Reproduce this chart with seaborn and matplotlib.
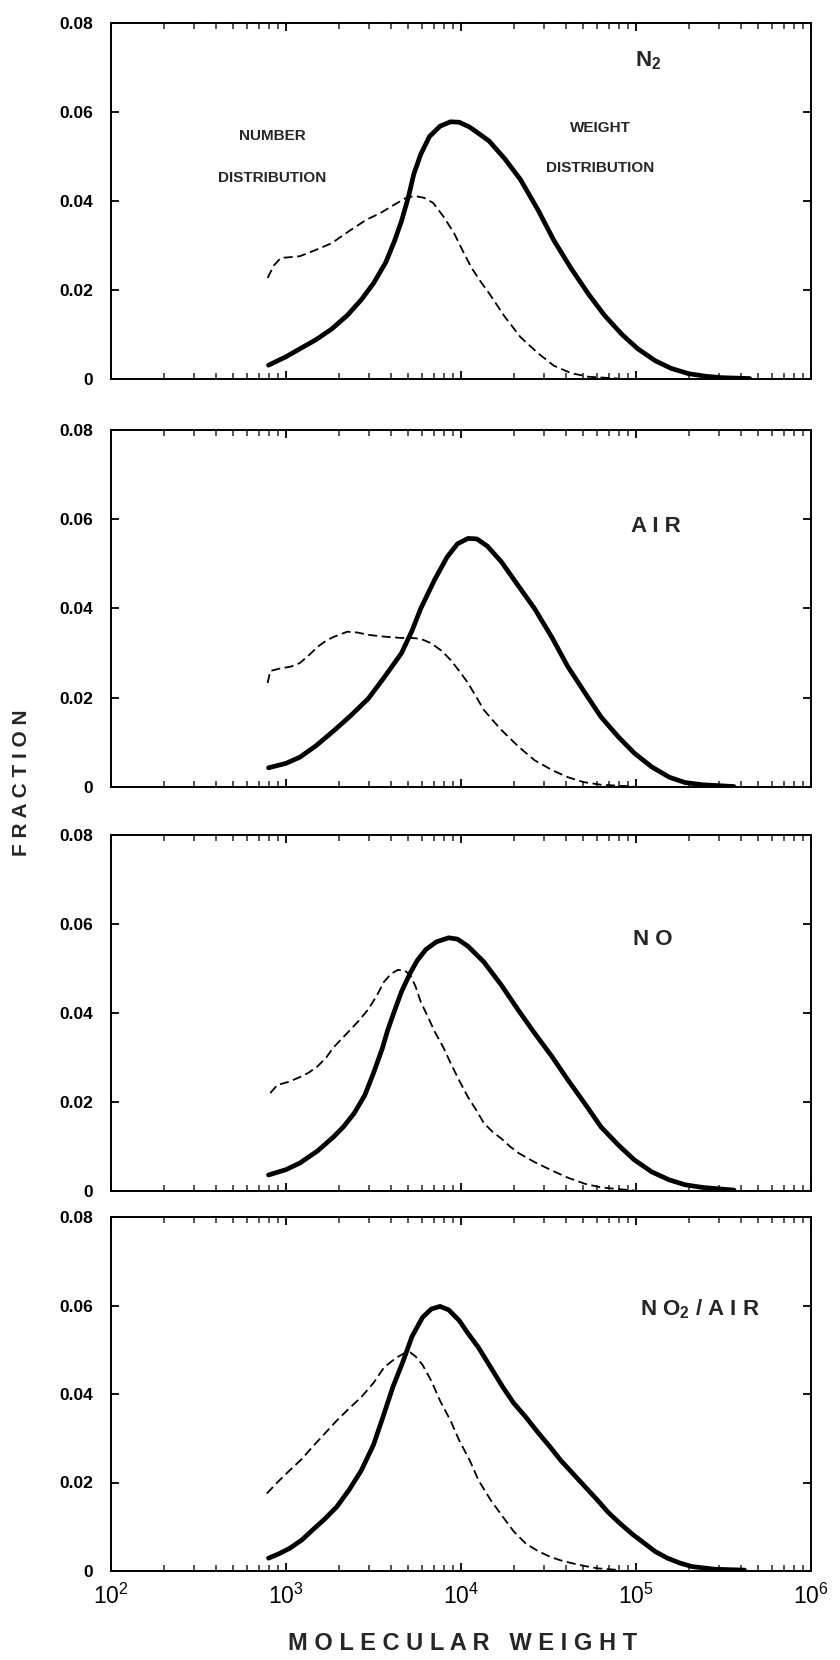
import numpy as np
import pandas as pd
import matplotlib
matplotlib.use("Agg")
import matplotlib.pyplot as plt
import seaborn as sns
from matplotlib.ticker import LogLocator, FixedLocator, FixedFormatter, NullFormatter

# ---------------- data (log10 molecular weight, fraction) ----------------
n2_weight_logm = [2.90, 3.00, 3.08, 3.17, 3.26, 3.35, 3.43, 3.50, 3.57, 3.62, 3.66, 3.70, 3.73, 3.77, 3.82, 3.88, 3.94, 3.99, 4.05, 4.10, 4.16, 4.25, 4.34, 4.44, 4.53, 4.63, 4.73, 4.82, 4.92, 5.01, 5.11, 5.20, 5.30, 5.40, 5.49, 5.65]
n2_weight_frac = [0.0031, 0.0050, 0.0068, 0.0088, 0.0112, 0.0143, 0.0178, 0.0215, 0.0262, 0.0310, 0.0355, 0.0410, 0.0460, 0.0505, 0.0545, 0.0568, 0.0578, 0.0577, 0.0566, 0.0552, 0.0535, 0.0495, 0.0448, 0.0380, 0.0312, 0.0248, 0.0190, 0.0143, 0.0100, 0.0068, 0.0041, 0.0024, 0.0012, 0.0006, 0.0003, 0.0001]
n2_number_logm = [2.895, 2.93, 2.97, 3.03, 3.08, 3.17, 3.26, 3.37, 3.46, 3.54, 3.62, 3.69, 3.74, 3.79, 3.84, 3.90, 3.96, 4.01, 4.06, 4.11, 4.16, 4.25, 4.34, 4.44, 4.53, 4.63, 4.73, 4.90]
n2_number_frac = [0.0227, 0.0255, 0.0272, 0.0274, 0.0276, 0.0290, 0.0305, 0.0335, 0.0358, 0.0373, 0.0392, 0.0408, 0.0411, 0.0407, 0.0396, 0.0365, 0.0328, 0.0288, 0.0250, 0.0220, 0.0193, 0.0140, 0.0094, 0.0058, 0.0030, 0.0013, 0.0005, 0.0001]

air_weight_logm = [2.90, 3.00, 3.08, 3.17, 3.27, 3.37, 3.47, 3.56, 3.66, 3.72, 3.77, 3.85, 3.92, 3.98, 4.04, 4.09, 4.15, 4.23, 4.32, 4.42, 4.52, 4.61, 4.71, 4.80, 4.90, 4.99, 5.09, 5.19, 5.28, 5.38, 5.56]
air_weight_frac = [0.0043, 0.0053, 0.0067, 0.0092, 0.0125, 0.0160, 0.0198, 0.0245, 0.0300, 0.0350, 0.0400, 0.0465, 0.0515, 0.0545, 0.0557, 0.0556, 0.0540, 0.0505, 0.0455, 0.0400, 0.0335, 0.0270, 0.0210, 0.0157, 0.0112, 0.0076, 0.0045, 0.0022, 0.0010, 0.0005, 0.0001]
air_number_logm = [2.895, 2.91, 2.96, 3.03, 3.08, 3.13, 3.18, 3.23, 3.27, 3.35, 3.41, 3.47, 3.56, 3.66, 3.72, 3.77, 3.83, 3.89, 3.94, 3.99, 4.04, 4.09, 4.13, 4.18, 4.23, 4.33, 4.42, 4.52, 4.61, 4.70, 4.80, 4.99]
air_number_frac = [0.0233, 0.0260, 0.0265, 0.0270, 0.0278, 0.0295, 0.0314, 0.0328, 0.0336, 0.0348, 0.0346, 0.0341, 0.0337, 0.0334, 0.0334, 0.0332, 0.0322, 0.0305, 0.0285, 0.0260, 0.0233, 0.0200, 0.0173, 0.0150, 0.0128, 0.0090, 0.0060, 0.0038, 0.0022, 0.0011, 0.0005, 0.0001]

no_weight_logm = [2.90, 3.00, 3.08, 3.18, 3.27, 3.33, 3.39, 3.45, 3.50, 3.55, 3.58, 3.62, 3.66, 3.71, 3.75, 3.80, 3.86, 3.93, 3.98, 4.04, 4.13, 4.23, 4.33, 4.42, 4.52, 4.61, 4.71, 4.80, 4.90, 4.99, 5.09, 5.19, 5.28, 5.38, 5.56]
no_weight_frac = [0.0036, 0.0048, 0.0063, 0.0090, 0.0121, 0.0145, 0.0175, 0.0215, 0.0265, 0.0320, 0.0360, 0.0405, 0.0448, 0.0490, 0.0518, 0.0543, 0.0560, 0.0569, 0.0566, 0.0550, 0.0515, 0.0463, 0.0405, 0.0355, 0.0302, 0.0250, 0.0195, 0.0144, 0.0103, 0.0070, 0.0043, 0.0025, 0.0014, 0.0008, 0.0002]
no_number_logm = [2.91, 2.95, 3.02, 3.08, 3.13, 3.18, 3.23, 3.27, 3.35, 3.41, 3.47, 3.52, 3.56, 3.60, 3.64, 3.68, 3.71, 3.74, 3.77, 3.81, 3.85, 3.90, 3.94, 3.99, 4.04, 4.09, 4.13, 4.18, 4.23, 4.28, 4.33, 4.42, 4.52, 4.61, 4.71, 4.80, 4.99]
no_number_frac = [0.0220, 0.0238, 0.0246, 0.0256, 0.0266, 0.0280, 0.0300, 0.0322, 0.0355, 0.0380, 0.0408, 0.0440, 0.0470, 0.0488, 0.0497, 0.0495, 0.0485, 0.0460, 0.0425, 0.0392, 0.0358, 0.0322, 0.0288, 0.0248, 0.0211, 0.0180, 0.0153, 0.0133, 0.0118, 0.0100, 0.0085, 0.0065, 0.0046, 0.0030, 0.0016, 0.0008, 0.0001]

no2_weight_logm = [2.90, 2.96, 3.02, 3.09, 3.15, 3.22, 3.29, 3.36, 3.43, 3.50, 3.56, 3.61, 3.67, 3.72, 3.78, 3.83, 3.88, 3.93, 3.99, 4.04, 4.10, 4.17, 4.24, 4.30, 4.37, 4.44, 4.51, 4.57, 4.64, 4.71, 4.78, 4.84, 4.91, 4.98, 5.05, 5.11, 5.18, 5.25, 5.32, 5.45, 5.62]
no2_weight_frac = [0.0029, 0.0039, 0.0051, 0.0070, 0.0092, 0.0117, 0.0145, 0.0183, 0.0227, 0.0285, 0.0355, 0.0415, 0.0475, 0.0530, 0.0573, 0.0592, 0.0598, 0.0590, 0.0566, 0.0537, 0.0505, 0.0460, 0.0415, 0.0380, 0.0348, 0.0313, 0.0280, 0.0250, 0.0220, 0.0190, 0.0160, 0.0133, 0.0107, 0.0083, 0.0062, 0.0044, 0.0029, 0.0018, 0.0010, 0.0004, 0.0002]
no2_number_logm = [2.89, 2.95, 3.02, 3.09, 3.15, 3.22, 3.29, 3.36, 3.43, 3.50, 3.56, 3.63, 3.68, 3.71, 3.74, 3.78, 3.83, 3.88, 3.94, 3.99, 4.05, 4.10, 4.17, 4.24, 4.30, 4.37, 4.44, 4.51, 4.57, 4.64, 4.71, 4.78, 4.91]
no2_number_frac = [0.0175, 0.0200, 0.0227, 0.0253, 0.0280, 0.0310, 0.0340, 0.0367, 0.0393, 0.0425, 0.0460, 0.0482, 0.0493, 0.0494, 0.0485, 0.0466, 0.0430, 0.0385, 0.0340, 0.0295, 0.0250, 0.0205, 0.0160, 0.0122, 0.0090, 0.0062, 0.0045, 0.0032, 0.0024, 0.0017, 0.0011, 0.0006, 0.0002]

panel_labels = ["N$_\\mathbf{2}$", "A I R", "N O", "N O$_\\mathbf{2}$ / A I R"]
y_ticks = [0, 0.02, 0.04, 0.06, 0.08]
y_tick_labels = ["0", "0.02", "0.04", "0.06", "0.08"]
x_ticks = [1e2, 1e3, 1e4, 1e5, 1e6]
x_tick_labels = ["$10^2$", "$10^3$", "$10^4$", "$10^5$", "$10^6$"]

panels = [
    (n2_weight_logm, n2_weight_frac, n2_number_logm, n2_number_frac),
    (air_weight_logm, air_weight_frac, air_number_logm, air_number_frac),
    (no_weight_logm, no_weight_frac, no_number_logm, no_number_frac),
    (no2_weight_logm, no2_weight_frac, no2_number_logm, no2_number_frac),
]

# ---------------- style ----------------
sns.set_style("ticks")
plt.rcParams["font.family"] = ["Liberation Sans", "DejaVu Sans"]
plt.rcParams["mathtext.fontset"] = "custom"
plt.rcParams["mathtext.rm"] = "Liberation Sans"
plt.rcParams["mathtext.bf"] = "Liberation Sans:bold"
plt.rcParams["mathtext.default"] = "regular"

W, H = 840, 1660
fig = plt.figure(figsize=(W / 100, H / 100), dpi=100)
fig.patch.set_facecolor("white")

left_px, right_px = 111, 811
panel_px = [(23, 379), (430, 787), (835, 1191), (1217, 1571)]

def fx(px):
    return px / W

def fy(py):
    return 1 - py / H

axes = []
for i, ((top, bot), (wl, wf, nl, nf)) in enumerate(zip(panel_px, panels)):
    ax = fig.add_axes([fx(left_px), fy(bot), fx(right_px - left_px), (bot - top) / H])
    axes.append(ax)
    dfw = pd.DataFrame({"mw": 10 ** np.array(wl), "frac": wf})
    dfn = pd.DataFrame({"mw": 10 ** np.array(nl), "frac": nf})
    sns.lineplot(data=dfw, x="mw", y="frac", ax=ax, color="black", linewidth=3.4,
                 estimator=None, sort=False, solid_capstyle="round", solid_joinstyle="round")
    sns.lineplot(data=dfn, x="mw", y="frac", ax=ax, color="black", linewidth=1.3,
                 estimator=None, sort=False, linestyle=(0, (5, 2.5)))
    ax.set_xscale("log")
    ax.set_xlim(1e2, 1e6)
    ax.set_ylim(0, 0.08)
    ax.set_xlabel("")
    ax.set_ylabel("")
    for s in ax.spines.values():
        s.set_visible(True)
        s.set_linewidth(1.4)
        s.set_color("black")
    ax.yaxis.set_major_locator(FixedLocator(y_ticks))
    ax.yaxis.set_major_formatter(FixedFormatter(y_tick_labels))
    ax.xaxis.set_major_locator(FixedLocator(x_ticks))
    ax.xaxis.set_minor_locator(LogLocator(base=10, subs=np.arange(2, 10), numticks=20))
    ax.xaxis.set_minor_formatter(NullFormatter())
    if i == 3:
        ax.xaxis.set_major_formatter(FixedFormatter(x_tick_labels))
    else:
        ax.xaxis.set_major_formatter(NullFormatter())
    ax.tick_params(axis="both", which="major", direction="in", length=6, width=1.3,
                   top=True, right=True, colors="black")
    ax.tick_params(axis="x", which="minor", direction="in", length=4, width=1.1,
                   top=True, bottom=True)
    ax.tick_params(axis="y", labelsize=12.5, pad=13)
    ax.tick_params(axis="x", labelsize=16.5, pad=9)
    for lab in ax.get_yticklabels():
        lab.set_fontweight("bold")
    ax.set_facecolor("white")
    ax.grid(False)

# panel labels
label_pos = [(648, 66), (656, 532), (653, 945), (700, 1315)]
for (px, py), txt in zip(label_pos, panel_labels):
    fig.text(fx(px), fy(py), txt, ha="center", va="baseline", fontsize=16, fontweight="bold")

fig.text(fx(272), fy(140), "NUMBER", ha="center", va="baseline", fontsize=11, fontweight="bold")
fig.text(fx(272), fy(182), "DISTRIBUTION", ha="center", va="baseline", fontsize=11, fontweight="bold")
fig.text(fx(600), fy(132), "WEIGHT", ha="center", va="baseline", fontsize=11, fontweight="bold")
fig.text(fx(600), fy(172), "DISTRIBUTION", ha="center", va="baseline", fontsize=11, fontweight="bold")

fig.text(fx(463), fy(1643), "M O L E C U L A R   W E I G H T", ha="center", va="center",
         fontsize=17, fontweight="bold")
fig.text(fx(22), fy(783), "F R A C T I O N", ha="center", va="center", rotation=90,
         fontsize=15, fontweight="bold")

fig.savefig("out.png", dpi=100, facecolor="white")
